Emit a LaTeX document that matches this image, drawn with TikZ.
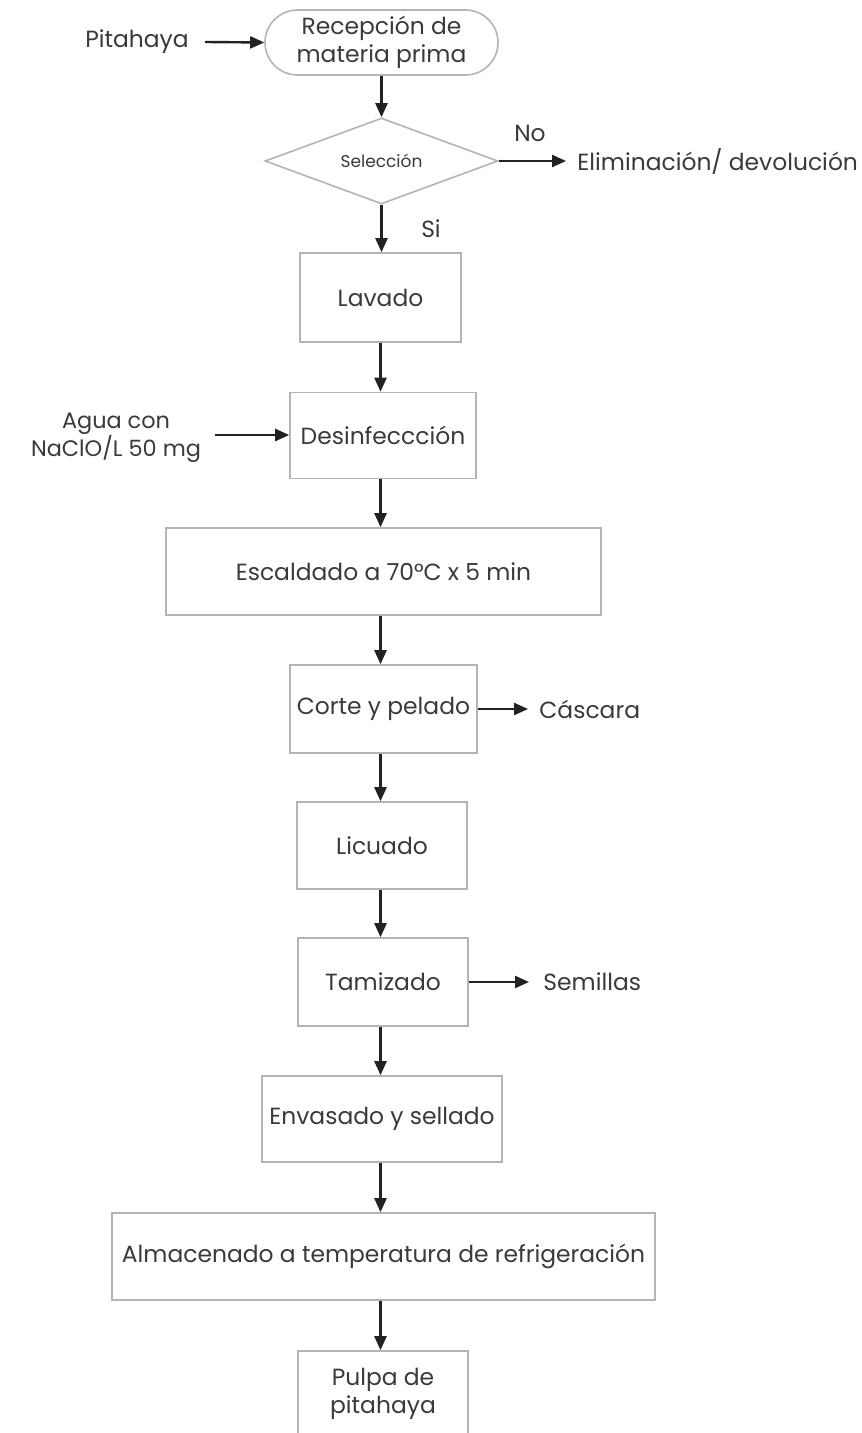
\documentclass[tikz,border=0pt]{standalone}
\usepackage{fontspec}
\setmainfont{Poppins}
\usetikzlibrary{shapes.geometric,shapes.misc,arrows.meta}
\definecolor{txt}{HTML}{3A3A3A}
\definecolor{edge}{HTML}{B4B4B4}
\definecolor{arr}{HTML}{222222}
\tikzset{
  box/.style={draw=edge, line width=0.8pt, fill=white, text=txt, font=\fontsize{11.7}{14}\selectfont, align=center, inner sep=0pt},
  lbl/.style={text=txt, font=\fontsize{11.7}{14}\selectfont, align=center, inner sep=1pt},
  flow/.style={draw=arr, line width=1.2pt, -{Triangle[length=7pt,width=6pt]}}
}
\begin{document}
\begin{tikzpicture}[x=0.5pt,y=-0.5pt]
\clip (0,0) rectangle (861,1433);
\fill[white] (0,0) rectangle (861,1433);
% nodes
\node[box, rounded rectangle, minimum width=116.5pt, minimum height=32.5pt] (recep) at (381.5,42.5) {Recepción de\\materia prima};
\node[box, diamond, aspect=2.7, minimum width=116.5pt, minimum height=43pt, font=\fontsize{8.5}{10}\selectfont] (sel) at (381.5,161) {Selección};
\node[box, minimum width=80.5pt, minimum height=44.5pt] (lav) at (380.5,297.5) {Lavado};
\node[box, minimum width=93pt, minimum height=43pt] (des) at (383,435.5) {Desinfeccción};
\node[box, minimum width=217.5pt, minimum height=43.5pt] (esc) at (383.5,571.5) {Escaldado a 70°C x 5 min};
\node[box, minimum width=93.5pt, minimum height=44pt] (cor) at (383.5,709) {Corte y pelado};
\node[box, minimum width=85pt, minimum height=43.5pt] (lic) at (382,845.5) {Licuado};
\node[box, minimum width=85pt, minimum height=44pt] (tam) at (383,982) {Tamizado};
\node[box, minimum width=120pt, minimum height=43pt] (env) at (382,1119) {Envasado y sellado};
\node[box, minimum width=271.5pt, minimum height=43.5pt] (alm) at (383.5,1256.5) {Almacenado a temperatura de refrigeración};
\node[box, minimum width=85pt, minimum height=43pt] (pul) at (383,1394) {Pulpa de\\pitahaya};
% side labels
\node[lbl] (pit) at (137,42) {Pitahaya};
\node[lbl] (eli) [anchor=west] at (575,161) {Eliminación/ devolución};
\node[lbl] (no) at (530,133) {No};
\node[lbl] (si) at (431,229) {Si};
\node[lbl, font=\fontsize{11.2}{14}\selectfont] (agua) at (116,438) {Agua con\\NaClO/L 50 mg};
\node[lbl] (cas) [anchor=west] at (537,709) {Cáscara};
\node[lbl] (sem) [anchor=west] at (541,982) {Semillas};
% coordinates for free arrow ends
\coordinate (pitE) at (205,42);
\coordinate (aguaE) at (215,435);
\coordinate (eliW) at (566,161);
\coordinate (casW) at (528,709);
\coordinate (semW) at (529,982);
% arrows
\draw[flow] (pitE) -- (recep.west);
\draw[flow] (recep.south) -- (recep.south |- sel.north);
\draw[flow] (sel.east) -- (eliW);
\draw[flow] (sel.south) -- (sel.south |- lav.north);
\draw[flow] (lav.south) -- (lav.south |- des.north);
\draw[flow] (aguaE) -- (aguaE -| des.west);
\draw[flow] (lav.south |- des.south) -- (lav.south |- esc.north);
\draw[flow] (lav.south |- esc.south) -- (lav.south |- cor.north);
\draw[flow] (cor.east) -- (casW);
\draw[flow] (lav.south |- cor.south) -- (lav.south |- lic.north);
\draw[flow] (lav.south |- lic.south) -- (lav.south |- tam.north);
\draw[flow] (tam.east) -- (semW);
\draw[flow] (lav.south |- tam.south) -- (lav.south |- env.north);
\draw[flow] (lav.south |- env.south) -- (lav.south |- alm.north);
\draw[flow] (lav.south |- alm.south) -- (lav.south |- pul.north);
\end{tikzpicture}
\end{document}
